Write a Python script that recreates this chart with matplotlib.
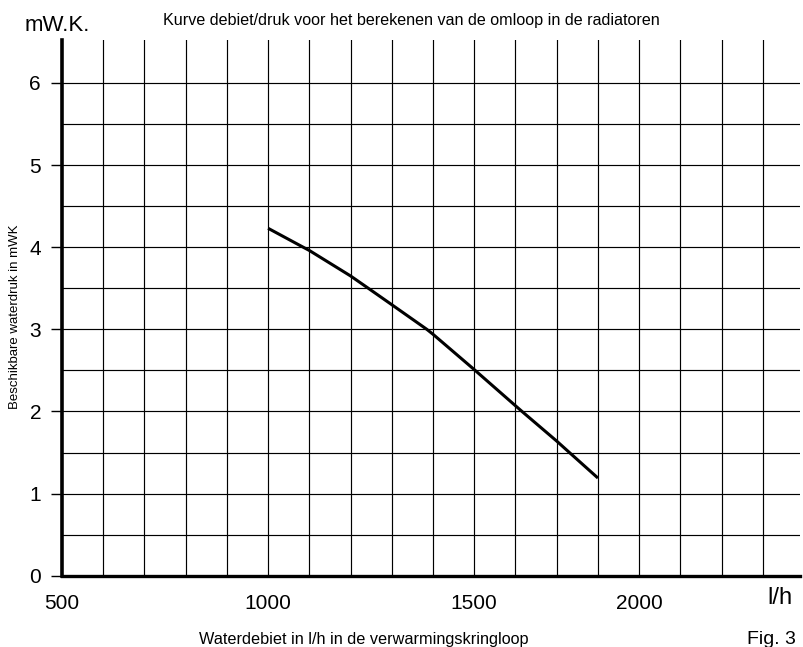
import matplotlib
matplotlib.use("Agg")
import matplotlib.pyplot as plt
import numpy as np

# flow (l/h) vs available pressure (mWK)
# (grid crossings included so the curve keeps its bend)
debiet = [1000, 1085, 1100, 1200, 1243, 1300, 1385, 1400, 1500, 1600, 1616, 1700, 1731, 1800]
druk = [4.23, 4.00, 3.96, 3.65, 3.50, 3.30, 3.00, 2.94, 2.51, 2.07, 2.00, 1.64, 1.50, 1.19]

# the printed figure puts its "2000" label under the 1900 grid line
x_tick_pos = [500, 1000, 1500, 1900]
x_tick_labels = ['500', '1000', '1500', '2000']
y_ticks = [0, 1, 2, 3, 4, 5, 6]

plt.rcParams['font.family'] = ['Liberation Sans', 'DejaVu Sans']

fig = plt.figure(figsize=(8.04, 6.47), dpi=100)
ax = fig.add_axes([0.077, 0.110, 0.918, 0.828])

ax.set_xlim(500, 2290)
ax.set_ylim(0, 6.52)

# grid
for gx in range(600, 2300, 100):
    ax.axvline(gx, color='black', lw=0.85, zorder=1)
for gy in np.arange(0.5, 6.01, 0.5):
    ax.axhline(gy, color='black', lw=0.85, zorder=1)

ax.plot(debiet, druk, color='black', lw=2.2, solid_capstyle='butt', zorder=3)

for s in ['top', 'right']:
    ax.spines[s].set_visible(False)
ax.spines['left'].set_linewidth(2.6)
ax.spines['bottom'].set_linewidth(2.4)

ax.set_xticks(x_tick_pos)
ax.set_xticklabels(x_tick_labels, fontsize=15)
ax.set_yticks(y_ticks)
ax.set_yticklabels([str(v) for v in y_ticks], fontsize=15)
ax.tick_params(axis='y', length=8, width=1, pad=7)
ax.tick_params(axis='x', length=0, pad=13)

fig.text(0.030, 0.961, 'mW.K.', fontsize=16, ha='left', va='center')
fig.text(0.512, 0.969, 'Kurve debiet/druk voor het berekenen van de omloop in de radiatoren',
         fontsize=11.6, ha='center', va='center')
fig.text(0.954, 0.075, 'l/h', fontsize=17, ha='left', va='center')
fig.text(0.019, 0.51, 'Beschikbare waterdruk in mWK', fontsize=9.5, rotation=90,
         ha='center', va='center')
fig.text(0.452, 0.012, 'Waterdebiet in l/h in de verwarmingskringloop', fontsize=11.7,
         ha='center', va='center')
fig.text(0.960, 0.011, 'Fig. 3', fontsize=14, ha='center', va='center')

fig.savefig('out.png', dpi=100)
